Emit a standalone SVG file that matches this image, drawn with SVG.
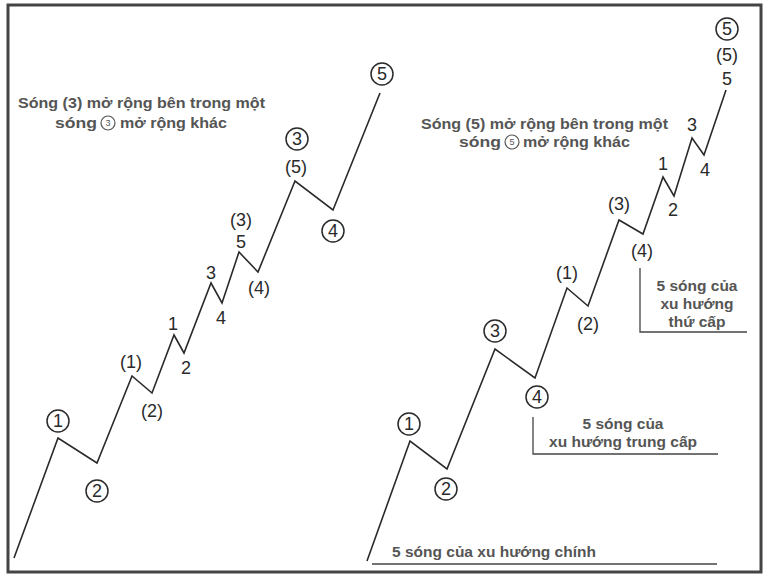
<svg xmlns="http://www.w3.org/2000/svg" width="768" height="579" viewBox="0 0 768 579">
<style>
.w{fill:none;stroke:#2a2a2a;stroke-width:1.6;stroke-linejoin:miter}
.l{font-family:"Liberation Sans",Arial,sans-serif;font-size:18px;fill:#2a2a2a;text-anchor:middle}
.c{fill:none;stroke:#2a2a2a;stroke-width:1.5}
.t{font-family:"Liberation Sans",Arial,sans-serif;font-size:15.5px;font-weight:bold;fill:#555}
.m{text-anchor:middle}
.b{fill:none;stroke:#444;stroke-width:1.3}
</style>
<rect x="0" y="0" width="768" height="579" fill="#ffffff"/>
<rect x="8" y="5" width="753" height="567" fill="none" stroke="#444" stroke-width="3"/>
<g id="connectors">
<polyline class="w" points="14,558 58,438 97,463 132,376 152,393 174,335 184,353 211,283 222,303 239,252 258,272 295,181 333,210 380,93"/>
<polyline class="w" points="367,561 410,441 447,469 495,349 535,378 567,288 588,306 619,220 643,234 663,177 674,196 692,138 704,155 726,90"/>
</g>
<g id="left-title">
<text class="t" x="18" y="108" textLength="247" lengthAdjust="spacingAndGlyphs">Sóng (3) mở rộng bên trong một</text>
<text class="t" x="55" y="128" textLength="42" lengthAdjust="spacingAndGlyphs">sóng</text>
<circle cx="108" cy="123" r="7" fill="none" stroke="#555" stroke-width="1.2"/>
<text x="108" y="126" style="font-family:'Liberation Sans',sans-serif;font-size:9px;fill:#555;text-anchor:middle">3</text>
<text class="t" x="120" y="128" textLength="107" lengthAdjust="spacingAndGlyphs">mở rộng khác</text>
</g>
<g id="left-labels">
<g id="L1"><circle class="c" cx="58" cy="421" r="11"/><text class="l" x="58" y="427">1</text></g>
<g id="L2"><circle class="c" cx="97" cy="491" r="11"/><text class="l" x="97" y="497">2</text></g>
<g id="Lp1"><text class="l" x="131" y="368">(1)</text></g>
<g id="Lp2"><text class="l" x="152" y="417">(2)</text></g>
<g id="Ls1"><text class="l" x="173" y="330">1</text></g>
<g id="Ls2"><text class="l" x="186" y="374">2</text></g>
<g id="Ls3"><text class="l" x="211" y="279">3</text></g>
<g id="Ls4"><text class="l" x="221" y="324">4</text></g>
<g id="Ls5"><text class="l" x="241" y="248">5</text></g>
<g id="Lp3"><text class="l" x="241" y="226">(3)</text></g>
<g id="Lp4"><text class="l" x="259" y="294">(4)</text></g>
<g id="Lp5"><text class="l" x="296" y="173">(5)</text></g>
<g id="L3"><circle class="c" cx="297" cy="139" r="11"/><text class="l" x="297" y="145">3</text></g>
<g id="L4"><circle class="c" cx="333" cy="231" r="11"/><text class="l" x="333" y="237">4</text></g>
<g id="L5"><circle class="c" cx="382" cy="74" r="11"/><text class="l" x="382" y="80">5</text></g>
</g>
<g id="right-title">
<text class="t" x="421" y="129" textLength="247" lengthAdjust="spacingAndGlyphs">Sóng (5) mở rộng bên trong một</text>
<text class="t" x="459" y="147" textLength="42" lengthAdjust="spacingAndGlyphs">sóng</text>
<circle cx="512" cy="142" r="7" fill="none" stroke="#555" stroke-width="1.2"/>
<text x="512" y="145" style="font-family:'Liberation Sans',sans-serif;font-size:9px;fill:#555;text-anchor:middle">5</text>
<text class="t" x="523" y="147" textLength="107" lengthAdjust="spacingAndGlyphs">mở rộng khác</text>
</g>
<g id="right-labels">
<g id="R1"><circle class="c" cx="409" cy="424" r="11"/><text class="l" x="409" y="430">1</text></g>
<g id="R2"><circle class="c" cx="446" cy="489" r="11"/><text class="l" x="446" y="495">2</text></g>
<g id="R3"><circle class="c" cx="495" cy="331" r="11"/><text class="l" x="495" y="337">3</text></g>
<g id="R4"><circle class="c" cx="537" cy="397" r="11"/><text class="l" x="537" y="403">4</text></g>
<g id="Rp1"><text class="l" x="567" y="279">(1)</text></g>
<g id="Rp2"><text class="l" x="588" y="330">(2)</text></g>
<g id="Rp3"><text class="l" x="619" y="210">(3)</text></g>
<g id="Rp4"><text class="l" x="642" y="257">(4)</text></g>
<g id="Rs1"><text class="l" x="663" y="170">1</text></g>
<g id="Rs2"><text class="l" x="673" y="216">2</text></g>
<g id="Rs3"><text class="l" x="692" y="131">3</text></g>
<g id="Rs4"><text class="l" x="705" y="176">4</text></g>
<g id="Rs5"><text class="l" x="727" y="85">5</text></g>
<g id="Rp5"><text class="l" x="727" y="61">(5)</text></g>
<g id="R5"><circle class="c" cx="727" cy="29" r="11"/><text class="l" x="727" y="35">5</text></g>
</g>
<g id="bracket-minor">
<polyline class="b" points="640,268 640,332 747,332"/>
<text class="t m" x="697" y="291">5 sóng của</text>
<text class="t m" x="697" y="309">xu hướng</text>
<text class="t m" x="697" y="327">thứ cấp</text>
</g>
<g id="bracket-intermediate">
<polyline class="b" points="533,417 533,454 718,454"/>
<text class="t m" x="623" y="429">5 sóng của</text>
<text class="t m" x="623" y="447">xu hướng trung cấp</text>
</g>
<g id="bracket-primary">
<line class="b" x1="372" y1="564" x2="717" y2="564"/>
<text class="t" x="392" y="557">5 sóng của xu hướng chính</text>
</g>
</svg>
